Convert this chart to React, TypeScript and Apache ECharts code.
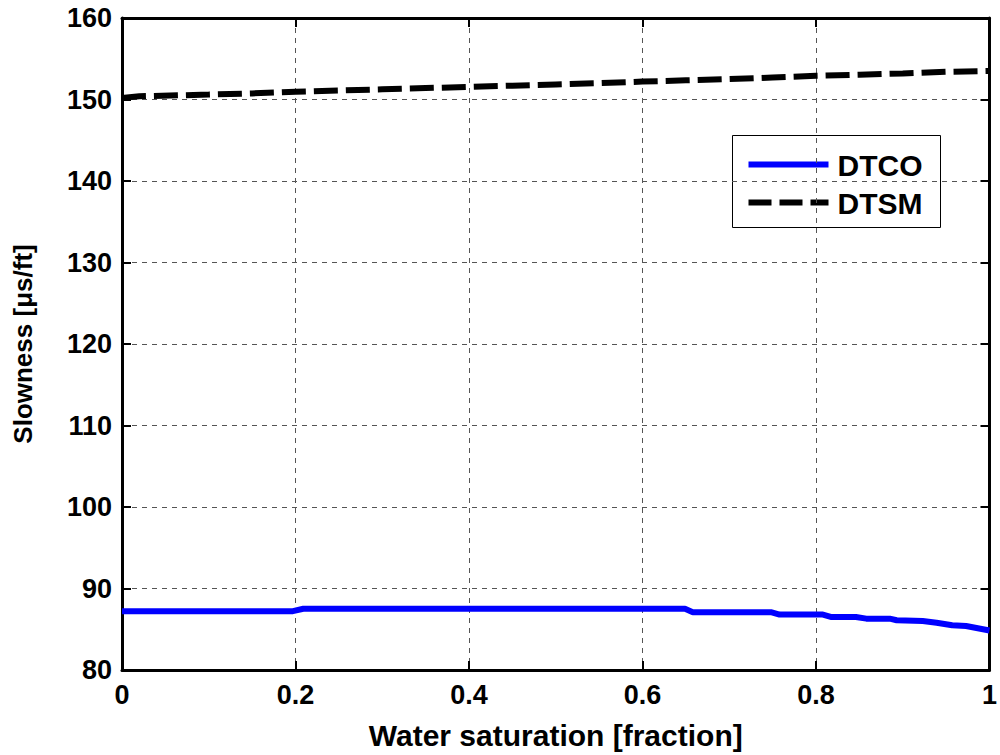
import React, { useEffect, useRef } from "react";
import * as echarts from "echarts";

// Water saturation [fraction]
const swDTCO = [0, 0.197, 0.209, 0.649, 0.658, 0.748, 0.758, 0.808, 0.818, 0.846, 0.858, 0.885, 0.893, 0.923, 0.939, 0.957, 0.973, 1.0];
// Compressional slowness [µs/ft]
const dtco = [87.22, 87.22, 87.51, 87.51, 87.1, 87.1, 86.8, 86.8, 86.5, 86.5, 86.3, 86.3, 86.1, 86.0, 85.8, 85.5, 85.4, 84.85];

const swDTSM = [0, 0.02, 0.1, 0.15, 0.2, 0.25, 0.3, 0.35, 0.4, 0.45, 0.5, 0.55, 0.6, 0.65, 0.7, 0.75, 0.8, 0.85, 0.9, 0.95, 1.0];
// Shear slowness [µs/ft]
const dtsm = [150.2, 150.4, 150.6, 150.75, 150.95, 151.1, 151.25, 151.4, 151.55, 151.7, 151.85, 152.0, 152.2, 152.35, 152.5, 152.7, 152.9, 153.05, 153.2, 153.4, 153.5];

const xTicks = { min: 0, max: 1, interval: 0.2 };
const yTicks = { min: 80, max: 160, interval: 10 };

const FONT = "'Liberation Sans', Arial, Helvetica, sans-serif";
const GRID = { left: 122, top: 18, width: 868, height: 657 };

export default function App() {
  const ref = useRef<HTMLDivElement>(null);

  useEffect(() => {
    if (!ref.current) return;
    const chart = echarts.init(ref.current, undefined, { renderer: "svg" });

    const axisLine = { show: true, onZero: false, lineStyle: { color: "#000", width: 3 } };
    const axisTick = { show: true, inside: true, length: 9, lineStyle: { color: "#000", width: 2 } };
    const splitLine = { show: true, lineStyle: { color: "#555", width: 1, type: [5, 5] as number[] } };
    const labelStyle = { color: "#000", fontFamily: FONT, fontWeight: "bold" as const, fontSize: 27 };

    const fmtX = (v: number) => (v === 0 ? "0" : v === 1 ? "1" : v.toFixed(1));

    chart.setOption({
      animation: false,
      backgroundColor: "#fff",
      grid: { ...GRID, containLabel: false },
      xAxis: [
        {
          type: "value", ...xTicks, position: "bottom",
          name: "Water saturation [fraction]", nameLocation: "middle", nameGap: 50,
          nameTextStyle: { ...labelStyle, fontSize: 30 },
          axisLine, axisTick, splitLine,
          axisLabel: { ...labelStyle, margin: 11, formatter: fmtX },
        },
        {
          type: "value", ...xTicks, position: "top",
          axisLine, axisTick, splitLine: { show: false }, axisLabel: { show: false },
        },
      ],
      yAxis: [
        {
          type: "value", ...yTicks, position: "left",
          name: "Slowness [\u03bcs/ft]", nameLocation: "middle", nameGap: 86,
          nameTextStyle: { ...labelStyle, fontSize: 26 },
          axisLine, axisTick, splitLine,
          axisLabel: { ...labelStyle, margin: 10 },
        },
        {
          type: "value", ...yTicks, position: "right",
          axisLine, axisTick, splitLine: { show: false }, axisLabel: { show: false },
        },
      ],
      series: [
        {
          name: "DTCO", type: "line", xAxisIndex: 0, yAxisIndex: 0,
          data: swDTCO.map((x, i) => [x, dtco[i]]),
          showSymbol: false, symbol: "none",
          lineStyle: { color: "#0000ff", width: 6 },
          itemStyle: { color: "#0000ff" },
          z: 5,
        },
        {
          name: "DTSM", type: "line", xAxisIndex: 0, yAxisIndex: 0,
          data: swDTSM.map((x, i) => [x, dtsm[i]]),
          showSymbol: false, symbol: "none",
          lineStyle: { color: "#000", width: 6, type: [24, 8] },
          itemStyle: { color: "#000" },
          z: 5,
        },
      ],
      graphic: [
        {
          type: "group", left: 732, top: 135, z: 100,
          children: [
            { type: "rect", shape: { x: 0, y: 0, width: 208, height: 92 }, style: { fill: "#fff", stroke: "#000", lineWidth: 1 } },
            { type: "line", shape: { x1: 16, y1: 29, x2: 96, y2: 29 }, style: { stroke: "#0000ff", lineWidth: 6 } },
            { type: "text", x: 105, y: 30, style: { text: "DTCO", fill: "#000", font: `bold 30px ${FONT}`, verticalAlign: "middle" } },
            { type: "line", shape: { x1: 16, y1: 67, x2: 96, y2: 67 }, style: { stroke: "#000", lineWidth: 6, lineDash: [23, 8] } },
            { type: "text", x: 105, y: 68, style: { text: "DTSM", fill: "#000", font: `bold 30px ${FONT}`, verticalAlign: "middle" } },
          ],
        },
      ],
    });

    return () => chart.dispose();
  }, []);

  return <div ref={ref} style={{ width: 1000, height: 755, position: "absolute", left: 0, top: 0 }} />;
}
